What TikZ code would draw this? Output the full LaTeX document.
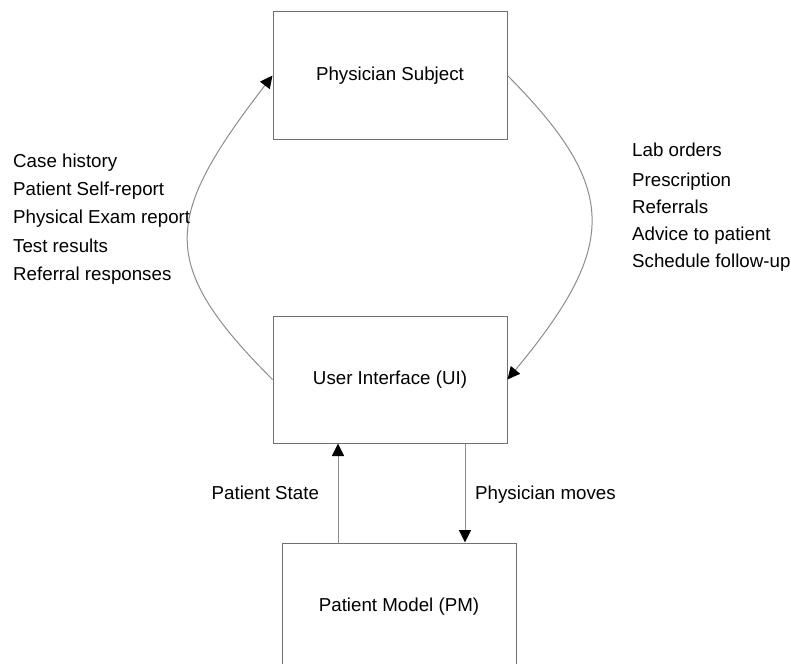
\documentclass[tikz,border=0pt]{standalone}
\usepackage{fontspec}
\setmainfont{Liberation Sans}
\usetikzlibrary{arrows.meta}
\definecolor{boxgray}{RGB}{112,112,112}
\definecolor{linegray}{RGB}{140,140,140}
\tikzset{
  box/.style={draw=boxgray, line width=1bp, minimum width=234bp, minimum height=127bp, inner sep=0pt, font=\fontsize{18.8}{22}\selectfont},
  lbl/.style={anchor=base west, inner sep=0pt, font=\fontsize{18.8}{22}\selectfont},
  conn/.style={draw=linegray, line width=1bp, -{Triangle[length=12.5bp,width=12bp,color=black]}},
}
\begin{document}
\begin{tikzpicture}[x=1bp,y=-1bp]
\useasboundingbox (0,0) rectangle (791,664);
\node[box] (ps) at (390,75.5) {Physician Subject};
\node[box] (ui) at (390,379.5) {User Interface (UI)};
\node[box] (pm) at (399,606.5) {Patient Model (PM)};
% loops
\draw[conn] (ui.west) .. controls (156,263) and (164,217) .. (ps.west);
\draw[conn] (ps.east) .. controls (620,189) and (618,246) .. (ui.east);
% vertical arrows
\draw[conn] ([xshift=-61bp]pm.north) -- ([xshift=-61bp]pm.north |- ui.south);
\draw[conn] ([xshift=66bp]pm.north |- ui.south) -- ([xshift=66bp]pm.north);
% left labels
\node[lbl] (l1) at (13,167.4) {Case history};
\node[lbl] (l2) at (13,195.7) {Patient Self-report};
\node[lbl] (l3) at (13,223.7) {Physical Exam report};
\node[lbl] (l4) at (13,252.7) {Test results};
\node[lbl] (l5) at (13,280.7) {Referral responses};
% right labels
\node[lbl] (r1) at (632,156.7) {Lab orders};
\node[lbl] (r2) at (632,186.7) {Prescription};
\node[lbl] (r3) at (632,213.3) {Referrals};
\node[lbl] (r4) at (632,240) {Advice to patient};
\node[lbl] (r5) at (632,267.3) {Schedule follow-up};
% arrow labels
\node[lbl] (psl) at (211.5,499.5) {Patient State};
\node[lbl] (pml) at (475,499.5) {Physician moves};
\end{tikzpicture}
\end{document}
